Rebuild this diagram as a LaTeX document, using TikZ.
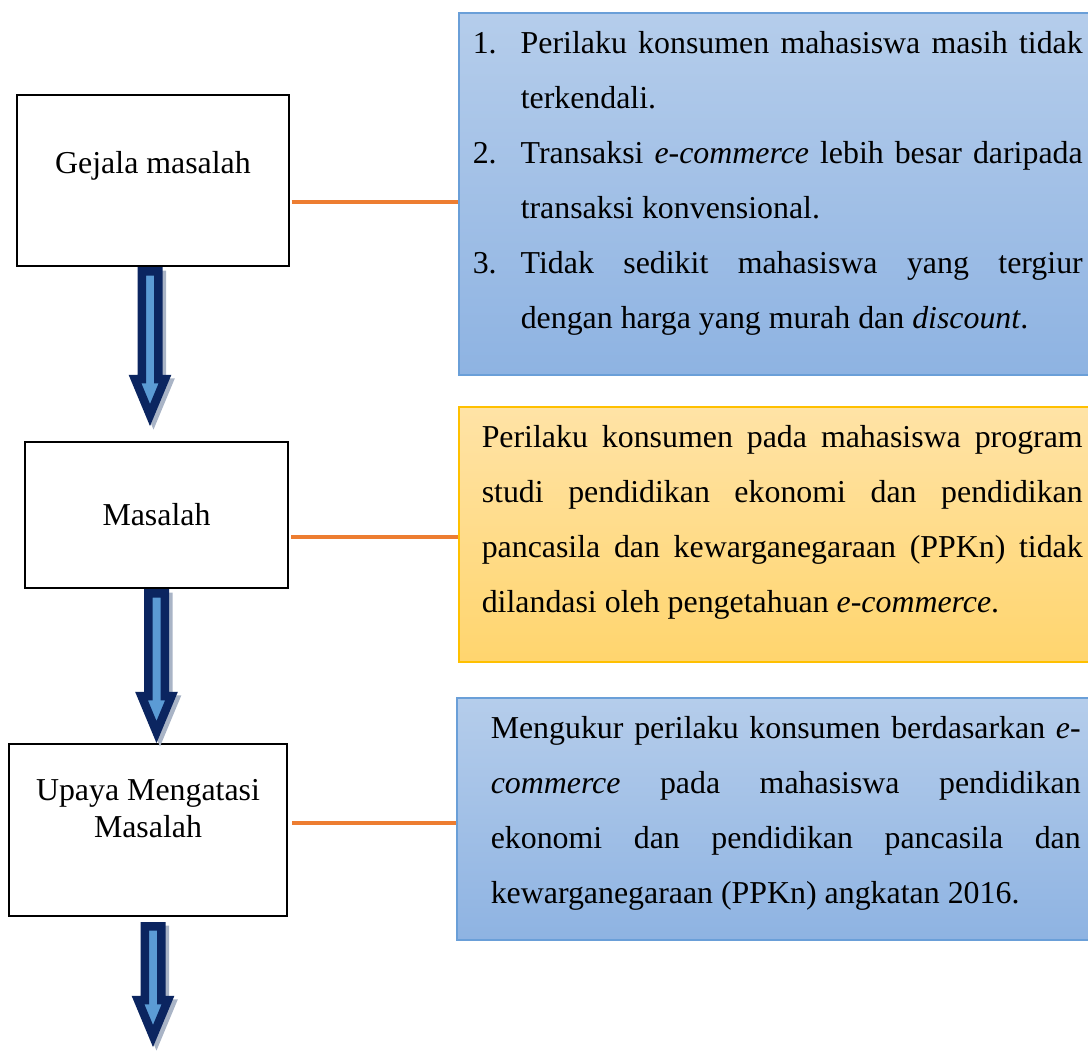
\documentclass[tikz,border=0pt]{standalone}
\usepackage{fontspec}
\setmainfont{Liberation Serif}
\usepackage{xcolor}
\usetikzlibrary{positioning,calc}

\definecolor{biruTua}{HTML}{0B2560}
\definecolor{biruMuda}{HTML}{5B9BD5}
\definecolor{biruAtas}{HTML}{B5CDEB}
\definecolor{biruBawah}{HTML}{8EB3E2}
\definecolor{biruTepi}{HTML}{6A9FD8}
\definecolor{kuningAtas}{HTML}{FFE3A6}
\definecolor{kuningBawah}{HTML}{FFD56E}
\definecolor{kuningTepi}{HTML}{FFC000}
\definecolor{oranye}{HTML}{ED7D31}
\definecolor{abuBayang}{HTML}{A9B4C6}

% butir bernomor dengan indentasi gantung
\newcommand{\butir}[1]{\noindent\hangindent=19.2pt\hangafter=1\makebox[19.2pt][l]{#1}}

% panah blok dari #1 (pangkal) ke #2 (ujung), bayangan dulu
\newcommand{\panahblok}[2]{%
  \foreach \gaya/\g in {bayang/1.4pt, panah/0pt}{
    \draw[\gaya] let \p1=($(#1)+(\g,-\g)$), \p2=($(#2)+(\g,-\g)$) in
      (\x1-3.3pt,\y1-1.7pt) -- (\x1+3.3pt,\y1-1.7pt) -- (\x1+3.3pt,\y2+18.8pt)
      -- (\x1+6pt,\y2+18.8pt) -- (\x1,\y2+4.4pt) -- (\x1-6pt,\y2+18.8pt)
      -- (\x1-3.3pt,\y2+18.8pt) -- cycle;
  }}

\begin{document}
\begin{tikzpicture}[x=0.4pt, y=-0.4pt,
    kotak/.style={draw=black, line width=0.8pt, fill=white, align=center,
      font=\fontsize{12.75pt}{14.8pt}\selectfont},
    isi/.style={anchor=north west, align=justify, line width=0.6pt, inner ysep=7.3pt,
      font=\fontsize{12.75pt}{22pt}\selectfont},
    isibiru/.style={isi, draw=biruTepi, top color=biruAtas, bottom color=biruBawah},
    isikuning/.style={isi, draw=kuningTepi, top color=kuningAtas, bottom color=kuningBawah},
    garis/.style={draw=oranye, line width=1.6pt},
    panah/.style={draw=biruTua, fill=biruMuda, line width=3.4pt, line join=miter},
    bayang/.style={panah, draw=abuBayang, fill=abuBayang}]

    \useasboundingbox (0,0) rectangle (1088,1054);

    % kotak kiri
    \node[kotak, minimum width=108.4pt, minimum height=68.4pt] (gejala) at (153,180.5)
        {\raisebox{3pt}[0pt][0pt]{Gejala masalah}};
    \node[kotak, minimum width=105.2pt, minimum height=58.4pt] (masalah) at (156.5,515)
        {Masalah};
    \node[kotak, minimum width=111.2pt, minimum height=68.8pt] (upaya) at (148,830)
        {\raisebox{4.4pt}[0pt][0pt]{\begin{tabular}{@{}c@{}}Upaya Mengatasi\\Masalah\end{tabular}}};

    % kotak kanan
    \node[isibiru, text width=244pt, inner xsep=5.6pt] (gejalaisi) at (458,12) {%
      \butir{1.}Perilaku konsumen mahasiswa masih tidak\linebreak terkendali.\par
      \butir{2.}Transaksi \textit{e-commerce} lebih besar daripada\linebreak transaksi konvensional.\par
      \butir{3.}Tidak sedikit mahasiswa yang tergiur\linebreak dengan harga yang murah dan \textit{discount}.\rule[-11.5pt]{0pt}{11.5pt}\par};
    \node[isikuning, text width=240.4pt, inner xsep=9.2pt] (masalahisi) at (458,406) {%
      Perilaku konsumen pada mahasiswa program\linebreak studi pendidikan ekonomi dan pendidikan\linebreak
      pancasila dan kewarganegaraan (PPKn) tidak\linebreak dilandasi oleh pengetahuan \textit{e-commerce}.\rule[-12.7pt]{0pt}{12.7pt}};
    \node[isibiru, text width=236pt, inner xsep=13.6pt] (upayaisi) at (456,697) {%
      Mengukur perilaku konsumen berdasarkan \textit{e-}\linebreak \textit{commerce} pada mahasiswa pendidikan\linebreak
      ekonomi dan pendidikan pancasila dan\linebreak kewarganegaraan (PPKn) angkatan 2016.\rule[-7.5pt]{0pt}{7.5pt}};

    % garis penghubung
    \coordinate (g1) at ($(gejala.east)+(2,21.5)$);
    \coordinate (g2) at ($(masalah.east)+(2,22)$);
    \coordinate (g3) at ($(upaya.east)+(4,-7)$);
    \draw[garis] (g1) -- (g1 -| gejalaisi.west);
    \draw[garis] (g2) -- (g2 -| masalahisi.west);
    \draw[garis] (g3) -- (g3 -| upayaisi.west);

    % panah
    \coordinate (p1) at ($(gejala.south)+(-3,0)$);
    \coordinate (u1) at ($(masalah.north)+(0,-15)$);
    \coordinate (p3) at ($(upaya.south)+(5,5)$);
    \coordinate (akhir) at (153,1047);
    \panahblok{p1}{u1}
    \panahblok{masalah.south}{upaya.north}
    \panahblok{p3}{akhir}
\end{tikzpicture}
\end{document}
